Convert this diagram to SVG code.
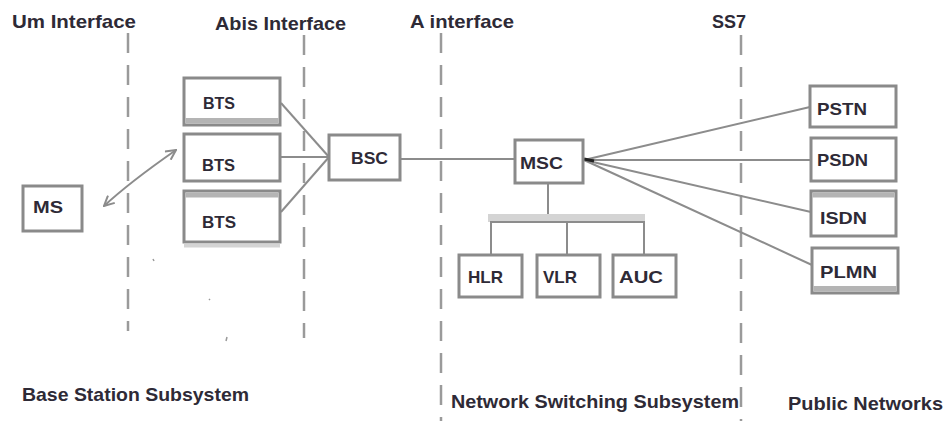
<svg xmlns="http://www.w3.org/2000/svg" width="946" height="421" viewBox="0 0 946 421">
<style>
.hdr{font-family:"Liberation Sans",Arial,sans-serif;font-weight:bold;font-size:19px;fill:#2e2a36}
.lbl{font-family:"Liberation Sans",Arial,sans-serif;font-weight:bold;font-size:17px;fill:#2e2a36}
.box{fill:#fff;stroke:#8a8a8a;stroke-width:3}
.band{fill:#b4b4b4}
.dash{stroke:#9a9a9a;stroke-width:2.5;stroke-dasharray:20 12;fill:none}
.ln{stroke:#8c8c8c;stroke-width:2;fill:none}
</style>
<defs>
<marker id="ah" viewBox="0 0 12 12" refX="11" refY="6" markerWidth="12" markerHeight="12" markerUnits="userSpaceOnUse" orient="auto-start-reverse">
<path d="M1,1 L11,6 L1,11" fill="none" stroke="#8c8c8c" stroke-width="2"/>
</marker>
</defs>

<g id="interfaces">
<line class="dash" x1="128" y1="33" x2="128" y2="331"/>
<line class="dash" x1="304" y1="35" x2="304" y2="338"/>
<line class="dash" x1="441" y1="33" x2="441" y2="421"/>
<line class="dash" x1="741" y1="35" x2="741" y2="421"/>
<text class="hdr" x="12" y="28" textLength="124" lengthAdjust="spacingAndGlyphs">Um Interface</text>
<text class="hdr" x="215" y="30" textLength="131" lengthAdjust="spacingAndGlyphs">Abis Interface</text>
<text class="hdr" x="410" y="28" textLength="104" lengthAdjust="spacingAndGlyphs">A interface</text>
<text class="hdr" x="712" y="28" textLength="34" lengthAdjust="spacingAndGlyphs">SS7</text>
</g>

<g id="connectors">
<path class="ln" d="M104,206 Q130,182 176,150" marker-start="url(#ah)" marker-end="url(#ah)"/>
<line class="ln" x1="281" y1="103" x2="329" y2="157"/>
<line class="ln" x1="281" y1="157" x2="329" y2="157" stroke-width="3"/>
<line class="ln" x1="281" y1="212" x2="329" y2="157"/>
<line class="ln" x1="400" y1="159" x2="515" y2="159"/>
<line class="ln" x1="548" y1="183" x2="548" y2="222"/>
<rect x="488" y="214" width="157" height="8" fill="#d4d4d4"/>
<line class="ln" x1="490" y1="222" x2="645" y2="222" stroke-width="2.5"/>
<line class="ln" x1="491" y1="222" x2="491" y2="255" stroke-width="3"/>
<line class="ln" x1="567" y1="222" x2="567" y2="255" stroke-width="3"/>
<line class="ln" x1="644" y1="222" x2="644" y2="255" stroke-width="3"/>
<line class="ln" x1="584" y1="160" x2="810" y2="107" stroke-width="2.5"/>
<line class="ln" x1="584" y1="160" x2="811" y2="160" stroke-width="2.5"/>
<line class="ln" x1="584" y1="160" x2="811" y2="212" stroke-width="2.5"/>
<line class="ln" x1="584" y1="160" x2="812" y2="265" stroke-width="2.5"/>
<path d="M584,159 L594,161" stroke="#222" stroke-width="3"/>
<path d="M153,259 l1,2 M209,299 l1,1 M227,337 l-1,4" stroke="#999" stroke-width="1.5"/>
</g>

<g id="MS"><rect class="box" x="23" y="186" width="59" height="45"/><text class="lbl" x="33" y="213" textLength="30" lengthAdjust="spacingAndGlyphs">MS</text></g>

<g id="BTS1"><rect class="box" x="184" y="78" width="96" height="47"/><rect class="band" x="185.5" y="118" width="93" height="5.5"/><text class="lbl" x="203" y="109" textLength="32" lengthAdjust="spacingAndGlyphs">BTS</text></g>
<g id="BTS2"><rect class="box" x="184" y="134" width="96" height="47"/><text class="lbl" x="202" y="171" textLength="33" lengthAdjust="spacingAndGlyphs">BTS</text></g>
<g id="BTS3"><rect class="box" x="184" y="191" width="96" height="51"/><rect class="band" x="185.5" y="192.5" width="93" height="5"/><rect x="184" y="243.5" width="96" height="4" fill="#d4d4d4"/><text class="lbl" x="202" y="228" textLength="34" lengthAdjust="spacingAndGlyphs">BTS</text></g>

<g id="BSC"><rect class="box" x="329" y="135" width="71" height="45"/><text class="lbl" x="351" y="164" textLength="37" lengthAdjust="spacingAndGlyphs">BSC</text></g>
<g id="MSC"><rect class="box" x="515" y="140" width="68" height="43"/><text class="lbl" x="520" y="169" textLength="43" lengthAdjust="spacingAndGlyphs">MSC</text></g>

<g id="HLR"><rect class="box" x="459" y="255" width="63" height="42"/><text class="lbl" x="468" y="283" textLength="35" lengthAdjust="spacingAndGlyphs">HLR</text></g>
<g id="VLR"><rect class="box" x="537" y="255" width="63" height="42"/><text class="lbl" x="543" y="283" textLength="34" lengthAdjust="spacingAndGlyphs">VLR</text></g>
<g id="AUC"><rect class="box" x="613" y="255" width="63" height="42"/><text class="lbl" x="619" y="283" textLength="44" lengthAdjust="spacingAndGlyphs">AUC</text></g>

<g id="PSTN"><rect class="box" x="810" y="86" width="86" height="41"/><text class="lbl" x="817" y="115" textLength="50" lengthAdjust="spacingAndGlyphs">PSTN</text></g>
<g id="PSDN"><rect class="box" x="811" y="138" width="85" height="43"/><text class="lbl" x="817" y="166" textLength="51" lengthAdjust="spacingAndGlyphs">PSDN</text></g>
<g id="ISDN"><rect class="box" x="811" y="191" width="85" height="45"/><rect class="band" x="812.5" y="192.5" width="82" height="5"/><text class="lbl" x="820" y="224" textLength="47" lengthAdjust="spacingAndGlyphs">ISDN</text></g>
<g id="PLMN"><rect class="box" x="812" y="248" width="86" height="45"/><rect class="band" x="813.5" y="286" width="83" height="5.5"/><text class="lbl" x="820" y="278" textLength="57" lengthAdjust="spacingAndGlyphs">PLMN</text></g>

<g id="subsystems">
<text class="hdr" x="22" y="401" textLength="227" lengthAdjust="spacingAndGlyphs">Base Station Subsystem</text>
<text class="hdr" x="451" y="408" textLength="288" lengthAdjust="spacingAndGlyphs">Network Switching Subsystem</text>
<text class="hdr" x="788" y="410" textLength="155" lengthAdjust="spacingAndGlyphs">Public Networks</text>
</g>
</svg>
